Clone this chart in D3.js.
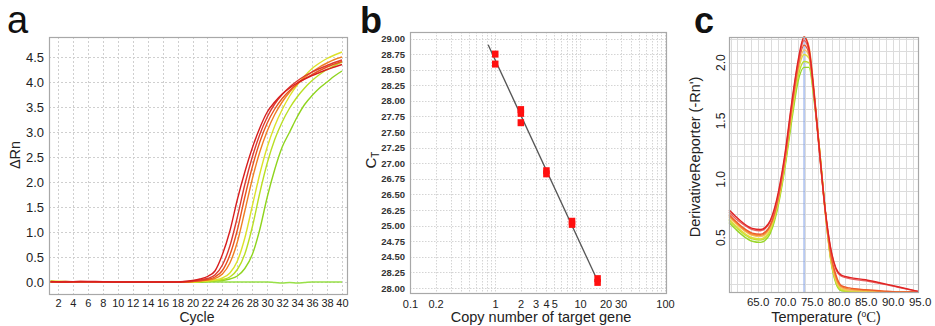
<!DOCTYPE html>
<html>
<head>
<meta charset="utf-8">
<script src="https://cdn.jsdelivr.net/npm/d3@7"></script>
<style>
  body { margin: 0; background: #fff; }
  svg { display: block; font-family: Arial, "Liberation Sans", sans-serif; }
</style>
</head>
<body>
<svg id="chart" width="935" height="326"></svg>
<script>
// ---- panel a: amplification plot (cycle vs delta Rn)
const cycles = [1, 3, 5, 7, 10, 14, 18, 19, 20, 21, 22, 23, 24, 25, 26, 27, 28, 29, 30, 31, 32, 33, 34, 35, 36, 37, 38, 39, 40];
const ampRed1 = [0.01, 0.00, 0.01, 0.01, 0.00, 0.00, 0.00, 0.01, 0.03, 0.06, 0.11, 0.22, 0.55, 1.02, 1.65, 2.20, 2.68, 3.08, 3.40, 3.60, 3.76, 3.88, 3.98, 4.06, 4.13, 4.19, 4.25, 4.30, 4.35];
const ampRed2 = [0.00, 0.01, 0.00, 0.00, 0.00, 0.00, 0.00, 0.01, 0.02, 0.04, 0.07, 0.14, 0.34, 0.72, 1.30, 1.95, 2.50, 2.95, 3.30, 3.56, 3.75, 3.90, 4.02, 4.12, 4.20, 4.27, 4.33, 4.39, 4.44];
const ampRedOrange = [0.00, 0.00, 0.01, 0.00, 0.00, 0.00, 0.00, 0.00, 0.01, 0.03, 0.05, 0.10, 0.23, 0.54, 1.04, 1.70, 2.30, 2.80, 3.18, 3.46, 3.67, 3.83, 3.96, 4.06, 4.15, 4.23, 4.30, 4.36, 4.41];
const ampOrange = [0.00, 0.00, 0.00, 0.00, 0.00, 0.00, 0.00, 0.00, 0.01, 0.02, 0.04, 0.07, 0.16, 0.38, 0.80, 1.42, 2.06, 2.60, 3.02, 3.35, 3.60, 3.80, 3.96, 4.09, 4.20, 4.30, 4.38, 4.45, 4.50];
const ampYellow = [0.02, 0.01, 0.00, 0.00, 0.00, 0.00, 0.00, 0.00, 0.00, 0.01, 0.02, 0.04, 0.08, 0.18, 0.42, 0.88, 1.52, 2.16, 2.70, 3.12, 3.45, 3.72, 3.94, 4.12, 4.27, 4.38, 4.47, 4.54, 4.60];
const ampYellowGreen = [0.01, 0.00, 0.00, 0.00, 0.00, 0.00, 0.00, 0.00, 0.00, 0.01, 0.02, 0.03, 0.05, 0.10, 0.25, 0.56, 1.10, 1.78, 2.38, 2.85, 3.20, 3.48, 3.70, 3.88, 4.03, 4.15, 4.25, 4.33, 4.40];
const ampGreen = [0.00, 0.00, 0.00, 0.00, 0.00, 0.00, 0.00, 0.00, 0.00, 0.00, 0.01, 0.02, 0.03, 0.06, 0.12, 0.27, 0.55, 1.05, 1.70, 2.25, 2.70, 3.00, 3.30, 3.55, 3.73, 3.88, 4.00, 4.12, 4.22];
const ampNtc = [0.01, 0.00, 0.00, 0.00, 0.00, 0.00, 0.00, 0.00, 0.00, 0.00, 0.00, 0.00, 0.00, 0.00, 0.00, 0.00, 0.00, 0.00, 0.00, -0.01, -0.02, -0.01, -0.02, -0.01, 0.00, 0.00, 0.00, 0.00, 0.00];
const ampCurves = [
  {values: ampNtc, color: '#98e048'},
  {values: ampGreen, color: '#8fd41e'},
  {values: ampYellowGreen, color: '#b9df24'},
  {values: ampYellow, color: '#dce22a'},
  {values: ampOrange, color: '#f07e22'},
  {values: ampRedOrange, color: '#e9521f'},
  {values: ampRed2, color: '#dc3a30'},
  {values: ampRed1, color: '#d81e1e'}
];
const cycleTicks = [2, 4, 6, 8, 10, 12, 14, 16, 18, 20, 22, 24, 26, 28, 30, 32, 34, 36, 38, 40];
const rnTicks = [0, 0.5, 1.0, 1.5, 2.0, 2.5, 3.0, 3.5, 4.0, 4.5];

// ---- panel b: standard curve (copy number vs CT)
const copyNumbers = [1, 1, 2, 2, 2, 4, 4, 8, 8, 16, 16];
const ctValues = [28.75, 28.59, 27.86, 27.80, 27.65, 26.88, 26.83, 26.07, 26.02, 25.15, 25.09];
const fitCopies = [0.83, 16.3];
const fitCt = [28.90, 25.10];
const copyTicks = [0.1, 0.2, 1, 2, 3, 4, 5, 10, 20, 30, 100];
const ctTickValues = [29.00, 28.75, 28.50, 28.25, 28.00, 27.75, 27.50, 27.25, 27.00, 26.75, 26.50, 26.25, 26.00, 25.75, 25.50, 25.25, 25.00];
const ctTickLabels = ['29.00', '28.75', '28.50', '28.25', '28.00', '27.75', '27.50', '27.25', '27.00', '26.75', '26.50', '26.25', '25.00', '24.75', '24.50', '28.25', '28.00'];

// ---- panel c: melt curves (temperature vs derivative reporter)
const temps = [59.7, 61, 62.5, 64, 65.5, 67, 68.5, 70, 71.5, 72.5, 73.6, 74.5, 75.5, 76.5, 77.5, 78.5, 79.5, 80.5, 82, 85, 88, 91, 94.7];
const meltRed1 = [0.74, 0.68, 0.62, 0.58, 0.57, 0.62, 0.82, 1.20, 1.72, 2.02, 2.22, 2.12, 1.72, 1.22, 0.75, 0.42, 0.24, 0.18, 0.16, 0.14, 0.11, 0.08, 0.04];
const meltRed2 = [0.72, 0.66, 0.61, 0.57, 0.56, 0.61, 0.80, 1.18, 1.70, 2.00, 2.19, 2.10, 1.70, 1.20, 0.74, 0.41, 0.23, 0.17, 0.15, 0.13, 0.105, 0.075, 0.04];
const meltRedOrange = [0.70, 0.64, 0.58, 0.54, 0.53, 0.58, 0.78, 1.16, 1.68, 1.98, 2.15, 2.08, 1.70, 1.22, 0.74, 0.38, 0.18, 0.09, 0.07, 0.055, 0.045, 0.035, 0.04];
const meltOrange = [0.69, 0.63, 0.57, 0.53, 0.52, 0.57, 0.77, 1.15, 1.66, 1.96, 2.22, 2.14, 1.74, 1.24, 0.74, 0.36, 0.16, 0.08, 0.06, 0.05, 0.04, 0.035, 0.035];
const meltLightOrange = [0.68, 0.62, 0.56, 0.52, 0.51, 0.56, 0.76, 1.14, 1.64, 1.94, 2.11, 2.06, 1.70, 1.22, 0.72, 0.34, 0.14, 0.07, 0.05, 0.045, 0.04, 0.035, 0.035];
const meltYellow = [0.66, 0.60, 0.54, 0.50, 0.49, 0.54, 0.74, 1.12, 1.62, 1.92, 2.07, 2.04, 1.70, 1.24, 0.74, 0.34, 0.13, 0.06, 0.045, 0.04, 0.035, 0.035, 0.035];
const meltYellowGreen = [0.65, 0.59, 0.53, 0.49, 0.48, 0.53, 0.73, 1.10, 1.60, 1.88, 2.01, 2.00, 1.68, 1.24, 0.74, 0.33, 0.12, 0.05, 0.04, 0.04, 0.035, 0.035, 0.035];
const meltGreen = [0.63, 0.57, 0.51, 0.47, 0.46, 0.51, 0.71, 1.08, 1.56, 1.84, 1.96, 1.96, 1.66, 1.24, 0.74, 0.32, 0.11, 0.045, 0.04, 0.035, 0.035, 0.035, 0.035];
const meltCurves = [
  {values: meltGreen, color: '#98d62a'},
  {values: meltYellowGreen, color: '#bcdf2e'},
  {values: meltYellow, color: '#dcde3a'},
  {values: meltLightOrange, color: '#f5c060'},
  {values: meltOrange, color: '#f39038'},
  {values: meltRedOrange, color: '#ee5c2a'},
  {values: meltRed2, color: '#e86060'},
  {values: meltRed1, color: '#e02424'}
];
const tempTicks = [65, 70, 75, 80, 85, 90, 95];
const derivTicks = [0.5, 1.0, 1.5, 2.0];
const meltPeakTemp = 73.6;

const svg = d3.select('#chart');
const gridGrey = '#cfcfcf';
const frameGrey = '#a8a8a8';

function drawFrame(x0, y0, x1, y1) {
  svg.append('rect')
    .attr('x', x0 + 0.5).attr('y', y0 + 0.5)
    .attr('width', x1 - x0).attr('height', y1 - y0)
    .attr('fill', 'none').attr('stroke', frameGrey).attr('stroke-width', 1.2);
}

function styleAxis(g, size, weight) {
  g.select('.domain').remove();
  g.selectAll('line').attr('stroke', frameGrey);
  g.selectAll('text').attr('fill', '#222').style('font-size', size + 'px').style('font-weight', weight || 'normal');
}

// ===== panel a =====
const xA = d3.scaleLinear().domain([0.8, 40.67]).range([49, 347]);
const yA = d3.scaleLinear().domain([-0.24, 4.9]).range([294, 37]);

svg.append('g').selectAll('line').data(cycleTicks).join('line')
  .attr('x1', d => Math.round(xA(d)) + 0.5).attr('x2', d => Math.round(xA(d)) + 0.5)
  .attr('y1', 37).attr('y2', 294)
  .attr('stroke', gridGrey).attr('stroke-dasharray', '2,2');
svg.append('g').selectAll('line').data(rnTicks).join('line')
  .attr('x1', 49).attr('x2', 347)
  .attr('y1', d => Math.round(yA(d)) + 0.5).attr('y2', d => Math.round(yA(d)) + 0.5)
  .attr('stroke', gridGrey).attr('stroke-dasharray', '2,2');

const lineA = d3.line()
  .x((d, i) => xA(cycles[i]))
  .y(d => yA(d))
  .curve(d3.curveMonotoneX);
svg.append('g').selectAll('path').data(ampCurves).join('path')
  .attr('d', d => lineA(d.values))
  .attr('fill', 'none')
  .attr('stroke', d => d.color)
  .attr('stroke-width', 1.4);

drawFrame(49, 37, 347, 294);

const axisAy = svg.append('g').attr('transform', 'translate(49,0)')
  .call(d3.axisLeft(yA).tickValues(rnTicks).tickSize(0).tickPadding(5).tickFormat(d3.format('.1f')));
styleAxis(axisAy, 13);
const axisAx = svg.append('g').attr('transform', 'translate(0,294)')
  .call(d3.axisBottom(xA).tickValues(cycleTicks).tickSize(0).tickPadding(5).tickFormat(d3.format('d')));
styleAxis(axisAx, 11);

svg.append('text').attr('x', 197).attr('y', 322).attr('text-anchor', 'middle')
  .style('font-size', '14px').attr('fill', '#222').text('Cycle');
svg.append('text').attr('transform', 'translate(20,155) rotate(-90)').attr('text-anchor', 'middle')
  .style('font-size', '14.5px').attr('fill', '#222').text('ΔRn');
svg.append('text').attr('x', 7).attr('y', 33)
  .style('font-size', '38px').attr('fill', '#111').text('a');

// ===== panel b =====
const xB = d3.scaleLog().domain([0.1, 100]).range([410, 665]);
const yB = d3.scaleLinear().domain([25, 29]).range([288, 38.5]);

const minorCopies = [];
[0.1, 1, 10].forEach(dec => d3.range(1, 10).forEach(k => minorCopies.push(dec * k)));
minorCopies.push(100);
svg.append('g').selectAll('line').data(minorCopies).join('line')
  .attr('x1', d => Math.round(xB(d)) + 0.5).attr('x2', d => Math.round(xB(d)) + 0.5)
  .attr('y1', 32).attr('y2', 293)
  .attr('stroke', '#d4d4d4').attr('stroke-dasharray', '1.5,1.5');
svg.append('g').selectAll('line').data(ctTickValues).join('line')
  .attr('x1', 410).attr('x2', 666)
  .attr('y1', d => Math.round(yB(d)) + 0.5).attr('y2', d => Math.round(yB(d)) + 0.5)
  .attr('stroke', '#d4d4d4').attr('stroke-dasharray', '1.5,1.5');

drawFrame(410, 32, 666, 293);

svg.append('line')
  .attr('x1', xB(fitCopies[0])).attr('y1', yB(fitCt[0]))
  .attr('x2', xB(fitCopies[1])).attr('y2', yB(fitCt[1]))
  .attr('stroke', '#555').attr('stroke-width', 1.3);

svg.append('g').selectAll('rect').data(copyNumbers).join('rect')
  .attr('x', d => xB(d) - 3)
  .attr('y', (d, i) => yB(ctValues[i]) - 3.5)
  .attr('width', 6.5).attr('height', 7)
  .attr('fill', '#ff1010');

const axisBy = svg.append('g').attr('transform', 'translate(410,0)')
  .call(d3.axisLeft(yB).tickValues(ctTickValues).tickSize(0).tickPadding(5)
    .tickFormat((d, i) => ctTickLabels[i]));
styleAxis(axisBy, 9.5, 'bold');
axisBy.selectAll('text').attr('fill', '#333');
const axisBx = svg.append('g').attr('transform', 'translate(0,293)')
  .call(d3.axisBottom(xB).tickValues(copyTicks).tickSize(0).tickPadding(7).tickFormat(d3.format('')));
styleAxis(axisBx, 11);

svg.append('text').attr('x', 541).attr('y', 322).attr('text-anchor', 'middle')
  .style('font-size', '14.5px').attr('fill', '#222').text('Copy number of target gene');
const ctLabel = svg.append('text').attr('transform', 'translate(376,160) rotate(-90)')
  .attr('text-anchor', 'middle').style('font-size', '15px').attr('fill', '#222');
ctLabel.append('tspan').text('C');
ctLabel.append('tspan').attr('dy', 3).style('font-size', '10px').text('T');
svg.append('text').attr('x', 360).attr('y', 33)
  .style('font-size', '36px').style('font-weight', 'bold').attr('fill', '#111').text('b');

// ===== panel c =====
const xC = d3.scaleLinear().domain([59.7, 94.7]).range([729, 918]);
const yC = d3.scaleLinear().domain([0.035, 2.22]).range([292, 37]);

const tempGrid = d3.range(60, 94.7, 1.25);
const derivGrid = d3.range(0.1, 2.21, 0.1);
svg.append('g').selectAll('line').data(tempGrid).join('line')
  .attr('x1', d => Math.round(xC(d)) + 0.5).attr('x2', d => Math.round(xC(d)) + 0.5)
  .attr('y1', 37).attr('y2', 292)
  .attr('stroke', '#dcdcdc');
svg.append('g').selectAll('line').data(derivGrid).join('line')
  .attr('x1', 729).attr('x2', 918)
  .attr('y1', d => Math.round(yC(d)) + 0.5).attr('y2', d => Math.round(yC(d)) + 0.5)
  .attr('stroke', '#dcdcdc');

svg.append('line')
  .attr('x1', xC(meltPeakTemp)).attr('x2', xC(meltPeakTemp))
  .attr('y1', 37).attr('y2', 292)
  .attr('stroke', '#7f9ee6').attr('stroke-width', 1);

const lineC = d3.line()
  .x((d, i) => xC(temps[i]))
  .y(d => yC(d))
  .curve(d3.curveMonotoneX);
svg.append('g').selectAll('path').data(meltCurves).join('path')
  .attr('d', d => lineC(d.values))
  .attr('fill', 'none')
  .attr('stroke', d => d.color)
  .attr('stroke-width', 1.4);

drawFrame(729, 37, 918, 292);

const axisCx = svg.append('g').attr('transform', 'translate(0,292)')
  .call(d3.axisBottom(xC).tickValues(tempTicks).tickSize(0).tickPadding(6).tickFormat(d3.format('.1f')));
styleAxis(axisCx, 11.5);

svg.append('g').selectAll('text').data(derivTicks).join('text')
  .attr('transform', d => `translate(725,${yC(d)}) rotate(-90)`)
  .attr('text-anchor', 'middle')
  .style('font-size', '12px').attr('fill', '#222')
  .text(d => d3.format('.1f')(d));

const tempLabel = svg.append('text').attr('x', 826).attr('y', 322).attr('text-anchor', 'middle')
  .style('font-size', '14.5px').attr('fill', '#222');
tempLabel.append('tspan').text('Temperature (');
tempLabel.append('tspan').attr('dy', -5).style('font-size', '8.5px').text('o');
tempLabel.append('tspan').attr('dy', 5).style('font-family', '"Liberation Serif", serif').text('C');
tempLabel.append('tspan').text(')');
svg.append('text').attr('transform', 'translate(700,157) rotate(-90)').attr('text-anchor', 'middle')
  .style('font-size', '14.5px').attr('fill', '#222').text("DerivativeReporter (-Rn')");
svg.append('text').attr('x', 694).attr('y', 33)
  .style('font-size', '36px').style('font-weight', 'bold').attr('fill', '#111').text('c');
</script>
</body>
</html>
